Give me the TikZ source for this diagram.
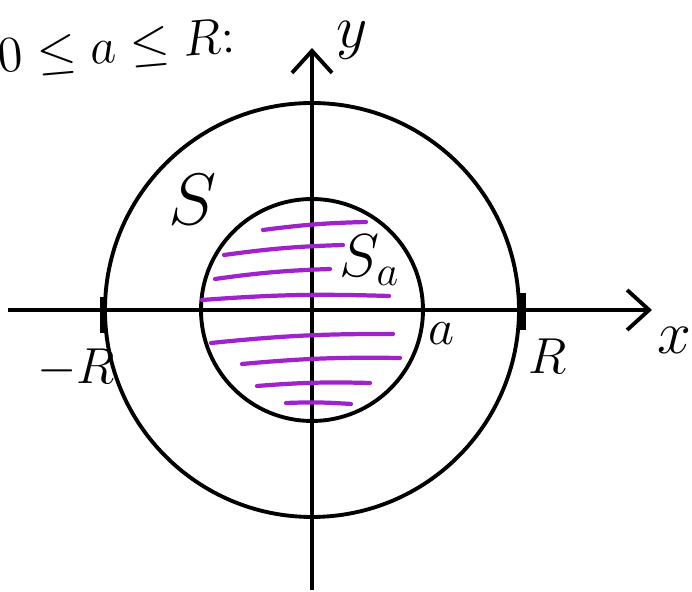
\documentclass[tikz,border=0pt]{standalone}
\usepackage{xcolor}
\usepackage{tikz}
\usetikzlibrary{arrows.meta}
\definecolor{skPurple}{HTML}{A022CC}
\tikzset{
  axisline/.style={
    -{Straight Barb[length=2.2mm, width=4mm]},
    black, line width=1.1pt
  },
  ringline/.style={black, line width=1.1pt},
  hatchline/.style={skPurple, line width=1.2pt, line cap=round},
  rtick/.style={black, line width=1.8pt},
  lbl/.style={font=\Large}
}

\begin{document}
\begin{tikzpicture}
      \useasboundingbox (-3.12,-2.82) rectangle (3.80,3.10);
      % axes
      \coordinate (xstart) at (-3.04,0);
      \coordinate (xend) at (3.40,0);
      \coordinate (ystart) at (0,-2.80);
      \coordinate (yend) at (0,2.62);
      \draw[axisline] (xstart) -- (xend);
      \draw[axisline] (ystart) -- (yend);
      % the two discs
      \coordinate (o) at (0,0);
      \draw[ringline] (o) circle (2.07);
      \draw[ringline] (o) circle (1.11);
      % shaded S_a
      \foreach \xa/\ya/\xb/\yb in {-0.49/0.80/0.54/0.88, -0.88/0.55/0.31/0.65,
          -0.97/0.31/0.18/0.41, -1.10/0.10/0.77/0.14, -1.01/-0.33/0.81/-0.24,
          -0.70/-0.54/0.88/-0.48, -0.55/-0.76/0.58/-0.73, -0.26/-0.93/0.39/-0.94}
        \draw[hatchline] (\xa,\ya) to[bend left=3] (\xb,\yb);
      % marks at -R and R
      \coordinate (mlt) at (-2.09,0.13);
      \coordinate (mlb) at (-2.09,-0.23);
      \coordinate (mrt) at (2.11,0.17);
      \coordinate (mrb) at (2.11,-0.20);
      \draw[rtick] (mlt) -- (mlb);
      \draw[rtick] (mrt) -- (mrb);
      % labels
      \node[lbl] (ylab) at (0.40,2.70) {\LARGE $y$};
      \node[lbl] (xlab) at (3.62,-0.30) {\LARGE $x$};
      \node[lbl] (rlab) at (2.36,-0.46) {$R$};
      \node[lbl] (mrlab) at (-2.36,-0.58) {$-R$};
      \node[lbl] (alab) at (1.30,-0.24) {$a$};
      \node[lbl] (slab) at (-1.19,1.10) {\huge $S$};
      \node[lbl] (salab) at (0.58,0.50) {\LARGE $S_a$};
      \node[lbl, rotate=5, anchor=west] (cond) at (-3.26,2.50) {$0 \le a \le R$:};
    \end{tikzpicture}
\end{document}
